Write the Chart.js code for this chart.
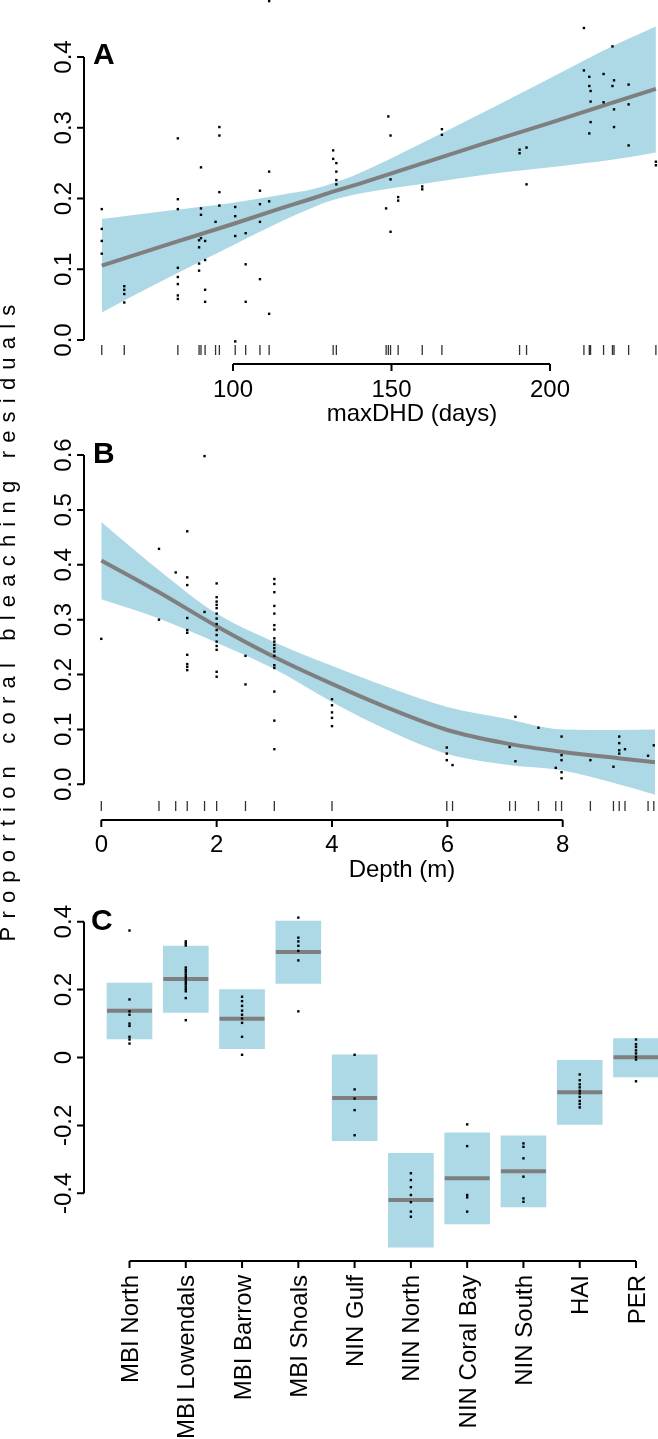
<!DOCTYPE html>
<html>
<head>
<meta charset="utf-8">
<script src="https://cdn.jsdelivr.net/npm/chart.js@4.4.1/dist/chart.umd.min.js"></script>
<style>
  html, body { margin: 0; padding: 0; background: #fff; overflow: hidden; }
  #wrap { position: relative; width: 658px; height: 1439px; }
  canvas { position: absolute; left: 0; }
  #ylab {
    position: absolute; left: -340px; top: 604px; width: 700px; height: 30px;
    line-height: 30px; text-align: center; white-space: nowrap; color: #000;
    font: 22px "Liberation Sans", Arial, Helvetica, sans-serif;
    letter-spacing: 8.2px; transform: rotate(-90deg);
  }
</style>
</head>
<body>
<div id="wrap">
  <canvas id="chartA" width="658" height="430" style="top:0px"></canvas>
  <canvas id="chartB" width="658" height="455" style="top:430px"></canvas>
  <canvas id="chartC" width="658" height="554" style="top:885px"></canvas>
  <div id="ylab">Proportion coral bleaching residuals</div>
</div>
<script>
// ---- panel A: maxDHD ----
const aDays = [111.4, 82.6, 95.7, 95.7, 89.9, 111.4, 95.7, 108.5, 82.6, 58.6, 58.6, 58.6, 58.6,
  65.7, 65.7, 65.7, 65.7, 82.6, 82.6, 82.6, 82.6, 82.6, 82.6, 89.9, 89.9, 89.3, 89.9, 89.3, 91.2,
  89.3, 91.2, 89.3, 91.2, 91.2, 95.7, 94.5, 100.7, 100.7, 100.7, 104.0, 104.0, 104.0, 108.5, 108.5,
  108.5, 111.4, 111.4, 100.7, 148.3, 149.7, 152.1, 152.1, 159.7, 159.7, 192.6, 131.6, 131.6, 132.6,
  132.6, 132.6, 132.6, 149.0, 149.7, 149.7, 165.9, 165.9, 190.4, 190.4, 192.6, 210.7, 210.7, 212.4,
  212.4, 212.8, 212.8, 212.8, 212.4, 216.9, 216.9, 219.7, 220.2, 219.7, 220.2, 220.2, 224.8, 224.8,
  224.8, 233.4, 233.4];
const aResid = [0.479, 0.285, 0.301, 0.289, 0.244, 0.238, 0.209, 0.211, 0.199, 0.185, 0.157, 0.140, 0.122,
  0.076, 0.071, 0.065, 0.053, 0.185, 0.102, 0.089, 0.079, 0.063, 0.058, 0.186, 0.177, 0.141, 0.144, 0.131, 0.140,
  0.108, 0.113, 0.098, 0.071, 0.054, 0.190, 0.167, 0.188, 0.175, 0.147, 0.151, 0.107, 0.054, 0.192, 0.167,
  0.086, 0.196, 0.037, -0.002, 0.186, 0.153, 0.202, 0.197, 0.217, 0.213, 0.220, 0.268, 0.256, 0.250,
  0.238, 0.226, 0.220, 0.316, 0.289, 0.227, 0.298, 0.290, 0.269, 0.264, 0.272, 0.441, 0.381, 0.372,
  0.359, 0.352, 0.337, 0.308, 0.292, 0.376, 0.336, 0.415, 0.367, 0.359, 0.326, 0.301, 0.361, 0.333,
  0.275, 0.252, 0.247];
const aCurveX = [58.6, 80, 100, 115, 125, 131, 140, 160, 180, 200, 220, 233.4];
const aFit    = [0.105, 0.136, 0.164, 0.186, 0.200, 0.209, 0.221, 0.250, 0.279, 0.307, 0.336, 0.355];
const aLow    = [0.039, 0.089, 0.134, 0.167, 0.187, 0.197, 0.207, 0.221, 0.234, 0.244, 0.255, 0.265];
const aHigh   = [0.171, 0.183, 0.194, 0.205, 0.213, 0.221, 0.236, 0.279, 0.324, 0.370, 0.416, 0.443];
const aXTicks = [100, 150, 200];
const aYTicks = [0, 0.1, 0.2, 0.3, 0.4];
const aYLabels = ['0.0', '0.1', '0.2', '0.3', '0.4'];

// ---- panel B: depth ----
const bDepth = [0, 1.0, 1.0, 1.29,
  1.49, 1.49, 1.49, 1.49, 1.49, 1.49, 1.49, 1.49, 1.49, 1.49,
  1.79, 1.79,
  2.0, 2.0, 2.0, 2.0, 2.0, 2.0, 2.0, 2.0, 2.0, 2.0, 2.0, 2.0, 2.0, 2.0, 2.0,
  2.5, 2.5,
  3.0, 3.0, 3.0, 3.0, 3.0, 3.0, 3.0, 3.0, 3.0, 3.0, 3.0, 3.0, 3.0, 3.0, 3.0, 3.0, 3.0, 3.0,
  4.0, 4.0, 4.0, 4.0, 4.0,
  5.99, 5.99, 5.99, 6.09, 7.08, 7.18, 7.18, 7.58, 7.88,
  7.98, 7.98, 7.98, 7.98, 7.98, 8.48, 8.88, 8.98, 8.98, 8.98, 8.98, 9.08, 9.48, 9.58];
const bResid = [0.265, 0.429, 0.300, 0.386,
  0.461, 0.377, 0.363, 0.303, 0.281, 0.276, 0.236, 0.219, 0.214, 0.208,
  0.598, 0.314,
  0.366, 0.341, 0.333, 0.327, 0.321, 0.311, 0.302, 0.292, 0.281, 0.272, 0.260, 0.252, 0.245, 0.205, 0.196,
  0.234, 0.182,
  0.374, 0.365, 0.350, 0.325, 0.311, 0.290, 0.282, 0.266, 0.260, 0.254, 0.248, 0.242, 0.234, 0.217, 0.212, 0.169, 0.116, 0.064,
  0.155, 0.144, 0.131, 0.121, 0.106,
  0.067, 0.056, 0.044, 0.035, 0.068, 0.123, 0.042, 0.103, 0.030,
  0.087, 0.053, 0.044, 0.022, 0.011, 0.044, 0.032, 0.087, 0.075, 0.062, 0.056, 0.064, 0.052, 0.071];
const bCurveX = [0, 1, 2, 3, 4, 5, 6, 7, 8, 9, 9.6];
const bFit    = [0.408, 0.350, 0.288, 0.232, 0.183, 0.138, 0.099, 0.075, 0.059, 0.047, 0.040];
const bLow    = [0.337, 0.302, 0.258, 0.210, 0.150, 0.097, 0.055, 0.036, 0.025, -0.001, -0.019];
const bHigh   = [0.478, 0.390, 0.311, 0.259, 0.216, 0.176, 0.141, 0.120, 0.100, 0.099, 0.100];
const bXTicks = [0, 2, 4, 6, 8];
const bYTicks = [0, 0.1, 0.2, 0.3, 0.4, 0.5, 0.6];
const bYLabels = ['0.0', '0.1', '0.2', '0.3', '0.4', '0.5', '0.6'];

// ---- panel C: region ----
const categories = ['MBI North', 'MBI Lowendals', 'MBI Barrow', 'MBI Shoals', 'NIN Gulf',
  'NIN North', 'NIN Coral Bay', 'NIN South', 'HAI', 'PER'];
const cLow    = [0.055, 0.133, 0.026, 0.218, -0.245, -0.559, -0.490, -0.440, -0.197, -0.057];
const cHigh   = [0.219, 0.328, 0.200, 0.402, 0.008, -0.282, -0.222, -0.231, -0.008, 0.056];
const cMedian = [0.138, 0.231, 0.114, 0.311, -0.119, -0.420, -0.356, -0.335, -0.102, 0.001];
const cPoints = [
  [0.374, 0.171, 0.136, 0.126, 0.100, 0.093, 0.061, 0.053, 0.041],
  [0.342, 0.336, 0.330, 0.265, 0.258, 0.251, 0.244, 0.237, 0.230, 0.223, 0.216, 0.209, 0.202, 0.195, 0.175, 0.110],
  [0.179, 0.166, 0.152, 0.138, 0.126, 0.115, 0.102, 0.061, 0.008],
  [0.412, 0.353, 0.342, 0.329, 0.314, 0.286, 0.136],
  [0.008, -0.094, -0.121, -0.155, -0.229],
  [-0.341, -0.361, -0.382, -0.405, -0.426, -0.454, -0.469],
  [-0.197, -0.261, -0.405, -0.412, -0.454],
  [-0.253, -0.263, -0.297, -0.351, -0.415, -0.425],
  [-0.050, -0.067, -0.079, -0.088, -0.098, -0.106, -0.116, -0.128, -0.137, -0.147],
  [0.053, 0.039, 0.031, 0.021, 0.012, 0.002, -0.006, -0.070]
];
const cYTicks = [-0.4, -0.2, 0, 0.2, 0.4];
const cYLabels = ['-0.4', '-0.2', '0', '0.2', '0.4'];

const FONT = '"Liberation Sans", Arial, Helvetica, sans-serif';
const BLUE = '#add8e6';
const GREY = '#7f7f7f';

// value range so that v1 sits at pixel p1 and v2 at p2, over pixels pA..pB
function fitRange(v1, p1, v2, p2, pA, pB) {
  const k = (v2 - v1) / (p2 - p1);
  const a = v1 + (pA - p1) * k, b = v1 + (pB - p1) * k;
  return { min: Math.min(a, b), max: Math.max(a, b) };
}

const zip = (xs, ys) => xs.map((x, i) => ({ x: x, y: ys[i] }));

// R style detached axes, rug, panel letter
function rAxes(cfg) {
  return {
    id: 'rAxes',
    afterDatasetsDraw(chart) {
      const ctx = chart.ctx, xs = chart.scales.x, ys = chart.scales.y;
      ctx.save();
      if (cfg.rug) {
        ctx.strokeStyle = '#333';
        ctx.lineWidth = 1.3;
        ctx.beginPath();
        [...new Set(cfg.rug.values)].forEach(v => {
          const p = xs.getPixelForValue(v);
          ctx.moveTo(p, cfg.rug.top);
          ctx.lineTo(p, cfg.rug.bottom);
        });
        ctx.stroke();
      }
      ctx.strokeStyle = '#000';
      ctx.fillStyle = '#000';
      ctx.lineWidth = 2;

      const yp = cfg.yTicks.map(v => ys.getPixelForValue(v));
      ctx.beginPath();
      ctx.moveTo(cfg.yAxisX, yp[0]);
      ctx.lineTo(cfg.yAxisX, yp[yp.length - 1]);
      yp.forEach(p => { ctx.moveTo(cfg.yAxisX - 7, p); ctx.lineTo(cfg.yAxisX, p); });
      ctx.stroke();

      ctx.font = '24px ' + FONT;
      ctx.textAlign = 'center';
      ctx.textBaseline = 'alphabetic';
      yp.forEach((p, i) => {
        ctx.save();
        ctx.translate(70.6, p);
        ctx.rotate(-Math.PI / 2);
        ctx.fillText(cfg.yLabels[i], 0, 0);
        ctx.restore();
      });

      const xp = cfg.xTicks.map(v => xs.getPixelForValue(v));
      ctx.beginPath();
      ctx.moveTo(xp[0], cfg.xAxisY);
      ctx.lineTo(xp[xp.length - 1], cfg.xAxisY);
      xp.forEach(p => { ctx.moveTo(p, cfg.xAxisY); ctx.lineTo(p, cfg.xAxisY + 7); });
      ctx.stroke();

      if (cfg.rotateX) {
        ctx.textAlign = 'right';
        xp.forEach((p, i) => {
          ctx.save();
          ctx.translate(p + 8.6, cfg.xLabelY);
          ctx.rotate(-Math.PI / 2);
          ctx.fillText(cfg.xLabels[i], 0, 0);
          ctx.restore();
        });
      } else {
        ctx.textAlign = 'center';
        xp.forEach((p, i) => ctx.fillText(cfg.xLabels[i], p, cfg.xLabelY));
      }
      if (cfg.title) {
        ctx.textAlign = 'center';
        ctx.fillText(cfg.title, cfg.titleX, cfg.titleY);
      }
      ctx.font = 'bold 30px ' + FONT;
      ctx.textAlign = 'left';
      ctx.fillText(cfg.letter, cfg.letterX, cfg.letterY);
      ctx.restore();
    }
  };
}

const baseOptions = (xr, yr) => ({
  responsive: false,
  animation: false,
  devicePixelRatio: 1,
  events: [],
  layout: { padding: 0, autoPadding: false },
  plugins: { legend: { display: false }, tooltip: { enabled: false } },
  scales: {
    x: { type: 'linear', display: false, offset: false, min: xr.min, max: xr.max },
    y: { type: 'linear', display: false, min: yr.min, max: yr.max }
  }
});

function smoothPanel(id, ptsX, ptsY, curveX, fit, low, high, xr, yr, axes, monotone) {
  const interp = monotone ? 'monotone' : 'default';
  new Chart(document.getElementById(id), {
    type: 'line',
    data: {
      datasets: [
        { data: zip(ptsX, ptsY), showLine: false, pointStyle: 'rect', pointRadius: 1.7,
          pointBackgroundColor: '#000', pointBorderWidth: 0, order: 0 },
        { data: zip(curveX, fit), borderColor: GREY, borderWidth: 4, pointRadius: 0,
          fill: false, cubicInterpolationMode: interp, order: 1 },
        { data: zip(curveX, high), borderColor: 'rgba(0,0,0,0)', borderWidth: 0, pointRadius: 0,
          fill: '+1', backgroundColor: BLUE, cubicInterpolationMode: 'monotone', order: 2 },
        { data: zip(curveX, low), borderColor: 'rgba(0,0,0,0)', borderWidth: 0, pointRadius: 0,
          fill: false, cubicInterpolationMode: 'monotone', order: 3 }
      ]
    },
    options: baseOptions(xr, yr),
    plugins: [rAxes(axes)]
  });
}

// panel A
smoothPanel('chartA', aDays, aResid, aCurveX, aFit, aLow, aHigh,
  fitRange(100, 233, 200, 550, 0, 658), fitRange(0, 340, 0.4, 57, 430, 0),
  { yTicks: aYTicks, yLabels: aYLabels, yAxisX: 84,
    xTicks: aXTicks, xLabels: aXTicks.map(String), xAxisY: 364, xLabelY: 397,
    rug: { values: aDays, top: 345, bottom: 355 },
    title: 'maxDHD (days)', titleX: 412, titleY: 421,
    letter: 'A', letterX: 93, letterY: 63.5 }, false);

// panel B
smoothPanel('chartB', bDepth, bResid, bCurveX, bFit, bLow, bHigh,
  fitRange(0, 101.3, 8, 562.7, 0, 658), fitRange(0, 354.3, 0.6, 25, 455, 0),
  { yTicks: bYTicks, yLabels: bYLabels, yAxisX: 84,
    xTicks: bXTicks, xLabels: bXTicks.map(String), xAxisY: 390, xLabelY: 422,
    rug: { values: bDepth, top: 371, bottom: 381 },
    title: 'Depth (m)', titleX: 402, titleY: 447,
    letter: 'B', letterX: 93, letterY: 33 }, true);

// panel C
const cIdx = categories.map((c, i) => i);
const cDots = [];
cPoints.forEach((vals, i) => vals.forEach(v => cDots.push({ x: i, y: v })));
new Chart(document.getElementById('chartC'), {
  type: 'bar',
  data: {
    datasets: [
      { type: 'line', data: cDots, showLine: false, pointStyle: 'rect', pointRadius: 1.7,
        pointBackgroundColor: '#000', pointBorderWidth: 0, order: 0 },
      { type: 'line', data: zip(cIdx, cMedian), showLine: false, pointStyle: 'line', pointRadius: 22.5,
        pointBorderColor: GREY, pointBorderWidth: 4, order: 1 },
      { type: 'bar', data: cIdx.map(i => ({ x: i, y: [cLow[i], cHigh[i]] })),
        backgroundColor: BLUE, borderWidth: 0, barThickness: 45, order: 2 }
    ]
  },
  options: baseOptions(fitRange(0, 129.5, 9, 636, 0, 658), fitRange(-0.4, 308.3, 0.4, 36.7, 554, 0)),
  plugins: [rAxes({ yTicks: cYTicks, yLabels: cYLabels, yAxisX: 84,
    xTicks: cIdx, xLabels: categories, xAxisY: 376, xLabelY: 390, rotateX: true,
    letter: 'C', letterX: 91, letterY: 45 })]
});
</script>
</body>
</html>
